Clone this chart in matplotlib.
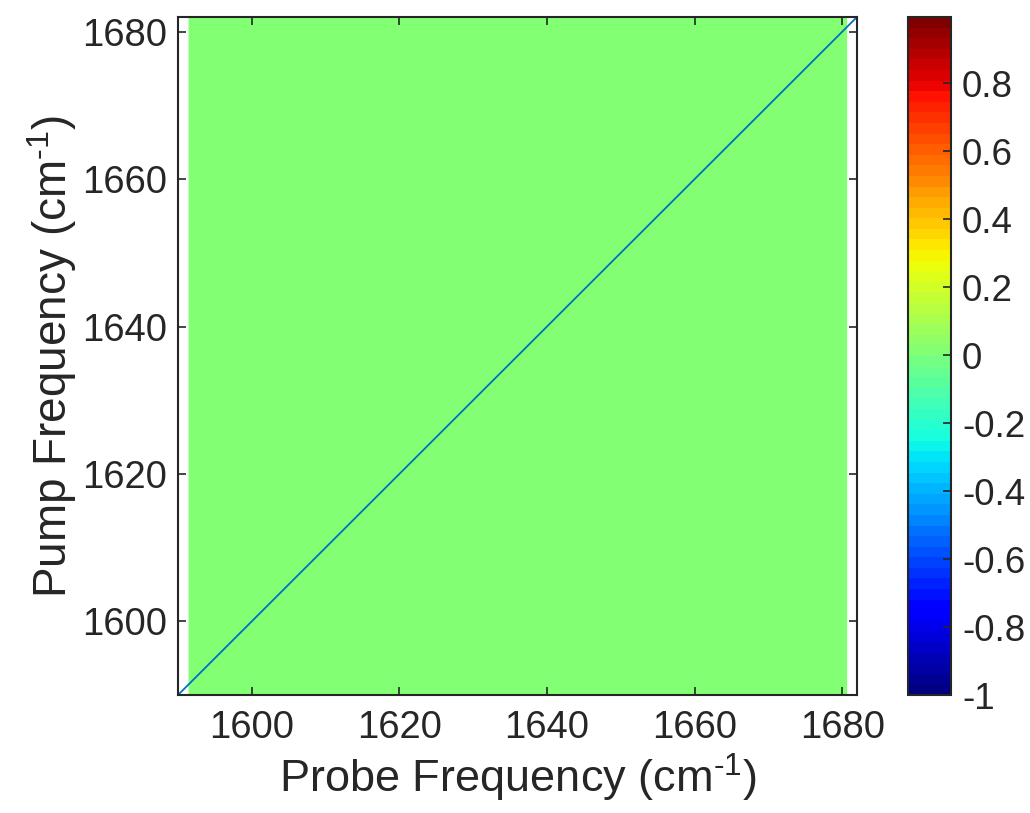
import numpy as np
import matplotlib
matplotlib.use('Agg')
import matplotlib.pyplot as plt
from matplotlib.colors import ListedColormap, Normalize

plt.rcParams['font.family'] = ['Liberation Sans', 'DejaVu Sans']
plt.rcParams['mathtext.fontset'] = 'custom'
plt.rcParams['mathtext.rm'] = 'Liberation Sans'

# Data
probe_range = [1591.5, 1680.6]   # probe frequency span of the map (cm^-1)
pump_range = [1590.0, 1682.0]    # pump frequency span of the map (cm^-1)
signal = [[0.0, 0.0], [0.0, 0.0]]  # flat zero signal everywhere
diag = [1590.0, 1682.0]          # diagonal line
xticks = [1600, 1620, 1640, 1660, 1680]
yticks = [1600, 1620, 1640, 1660, 1680]
cbar_ticks = [-1, -0.8, -0.6, -0.4, -0.2, 0, 0.2, 0.4, 0.6, 0.8]

cmap = ListedColormap(plt.get_cmap('jet')(np.linspace(0, 1, 64)))
norm = Normalize(vmin=-1, vmax=1)

fig = plt.figure(figsize=(10.3, 8.13), dpi=100)
ax = fig.add_axes([0.1728, 0.1451, 0.6592, 0.8340])
cax = fig.add_axes([0.8816, 0.1451, 0.0417, 0.8340])

ax.pcolormesh(probe_range, pump_range, np.array(signal), cmap=cmap, norm=norm, shading='gouraud')
ax.plot(diag, diag, color=(0, 0.447, 0.741), lw=1.3)
ax.set_xlim(1590, 1682)
ax.set_ylim(1590, 1682)
ax.set_xticks(xticks)
ax.set_yticks(yticks)
ax.tick_params(direction='in', length=6, width=1.2, labelsize=27.5, top=True, right=True,
               colors='#262626', pad=8)
ax.tick_params(axis='x', pad=11)
for s in ax.spines.values():
    s.set_linewidth(1.5)
    s.set_color('#262626')
ax.set_xlabel(r'Probe Frequency (cm$^{\text{-1}}$)', fontsize=32.5, color='#262626', labelpad=4)
ax.set_ylabel(r'Pump Frequency (cm$^{\text{-1}}$)', fontsize=33, color='#262626', labelpad=2)

sm = matplotlib.cm.ScalarMappable(norm=Normalize(vmin=-1, vmax=0.995), cmap=cmap)
cb = fig.colorbar(sm, cax=cax, ticks=cbar_ticks)
cb.ax.set_yticklabels(['-1', '-0.8', '-0.6', '-0.4', '-0.2', '0', '0.2', '0.4', '0.6', '0.8'])
cb.ax.tick_params(direction='in', length=6, width=1.2, labelsize=26.5, colors='#262626', pad=8)
cb.outline.set_linewidth(1.5)
cb.outline.set_edgecolor('#262626')

fig.savefig('out.png', dpi=100)
